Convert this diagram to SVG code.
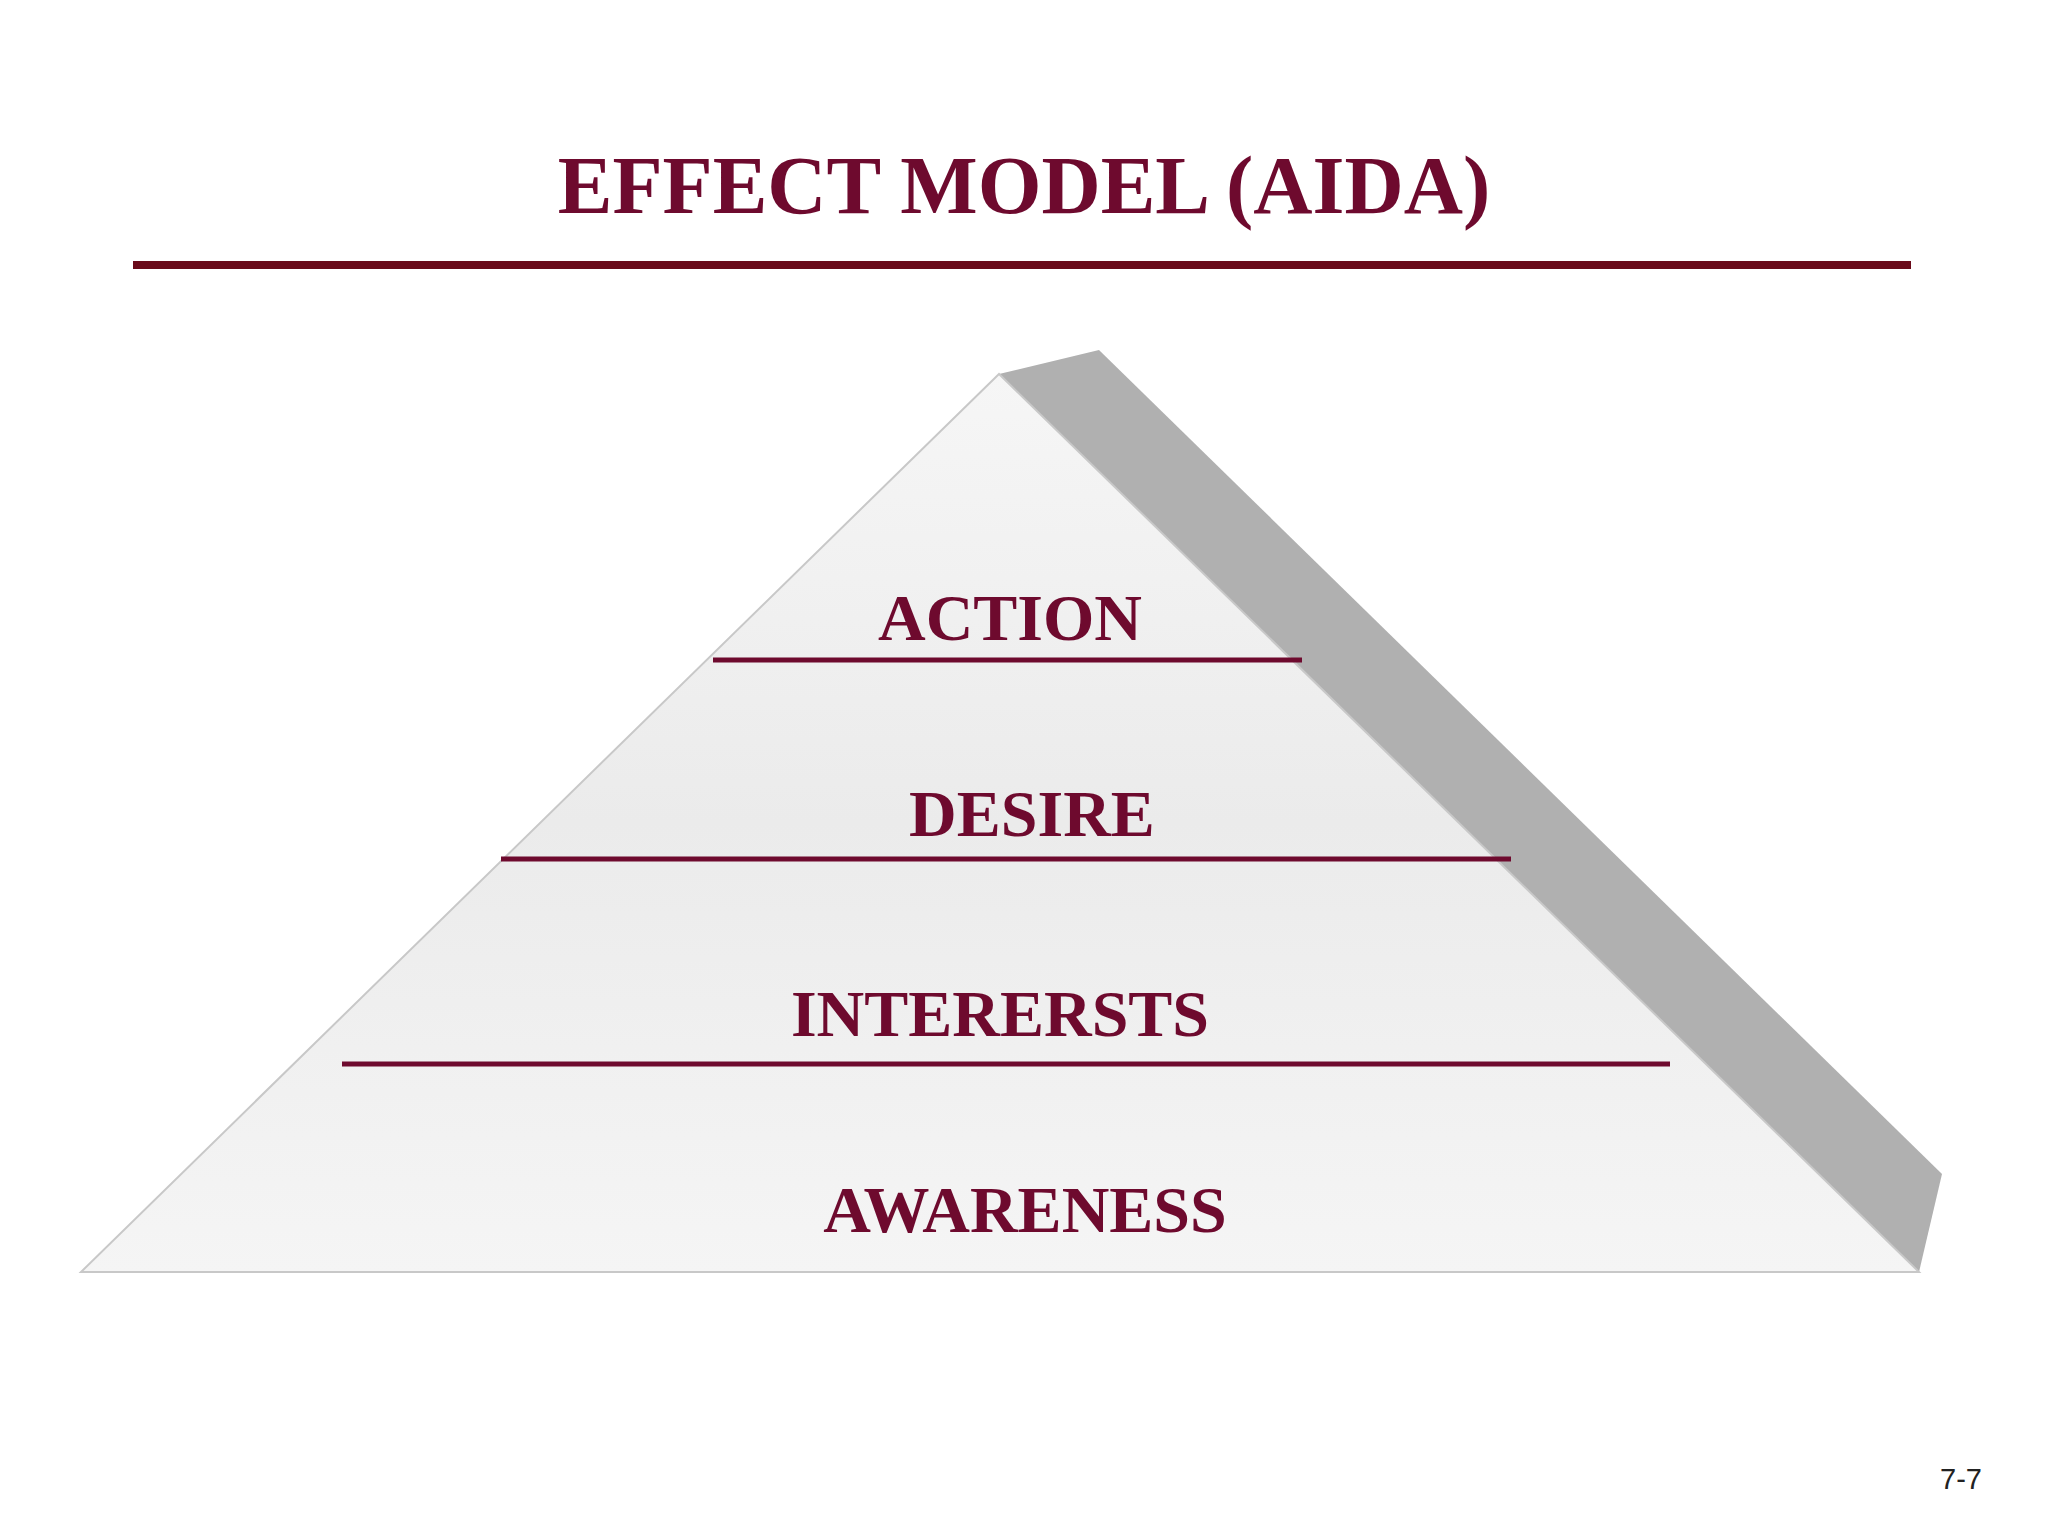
<svg xmlns="http://www.w3.org/2000/svg" width="2048" height="1536" viewBox="0 0 2048 1536">
<defs>
<linearGradient id="g" x1="0" y1="0" x2="0" y2="1"><stop offset="0" stop-color="#f6f6f6"/><stop offset="0.5" stop-color="#ebebeb"/><stop offset="1" stop-color="#f5f5f5"/></linearGradient>
<style>
.t{font-family:"Liberation Serif",serif;font-weight:bold;fill:#6e0a2e;text-anchor:middle}
.l{stroke:#6e0a2e;stroke-width:5}
</style>
</defs>
<rect width="2048" height="1536" fill="#fff"/>
<text class="t" x="1024" y="213" font-size="82">EFFECT MODEL (AIDA)</text>
<g id="rule" stroke="#6a0a1a" stroke-width="8">
<line x1="133" y1="265" x2="1911" y2="265"/>
</g>
<g id="pyramid">
<polygon points="999,374 1099,350 1942,1174 1919,1272" fill="#b0b0b0"/>
<polygon points="999,374 81,1272 1919,1272" fill="url(#g)" stroke="#c8c8c8" stroke-width="2"/>
</g>
<g id="connectors">
<line class="l" x1="713" y1="660" x2="1302" y2="660"/>
<line class="l" x1="501" y1="859" x2="1511" y2="859"/>
<line class="l" x1="342" y1="1064" x2="1670" y2="1064"/>
</g>
<g id="action"><text class="t" x="1010" y="640" font-size="66">ACTION</text></g>
<g id="desire"><text class="t" x="1032" y="836" font-size="66">DESIRE</text></g>
<g id="interests"><text class="t" x="1000" y="1036" font-size="66">INTERERSTS</text></g>
<g id="awareness"><text class="t" x="1025" y="1232" font-size="66">AWARENESS</text></g>
<text x="1961" y="1489" font-family="Liberation Sans,sans-serif" font-size="29" fill="#222" text-anchor="middle">7-7</text>
</svg>
